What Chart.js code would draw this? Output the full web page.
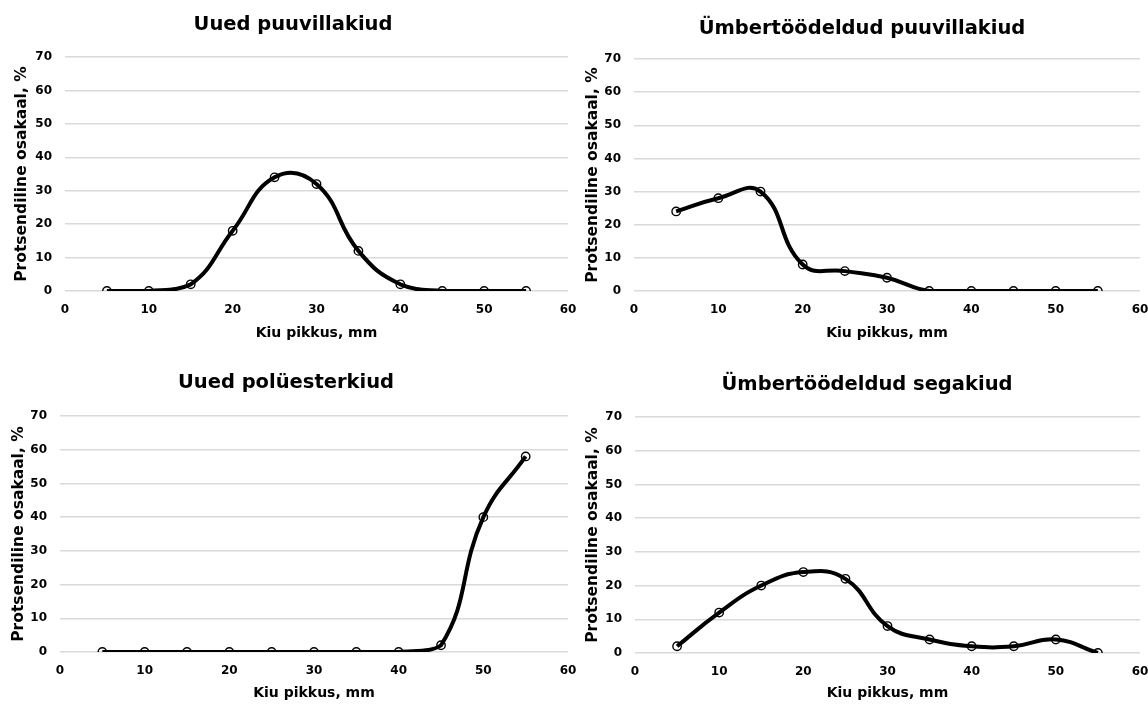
<!DOCTYPE html>
<html>
<head>
<meta charset="utf-8">
<script src="https://cdn.jsdelivr.net/npm/chart.js@4"></script>
<style>
  html, body { margin: 0; padding: 0; background: #fff; }
  #wrap { position: relative; width: 1148px; height: 704px; overflow: hidden; }
  .cell { position: absolute; height: 352px; }
</style>
</head>
<body>
<div id="wrap">
  <div class="cell" style="left:0;top:0;width:590px"><canvas id="c1"></canvas></div>
  <div class="cell" style="left:574px;top:0;width:574px"><canvas id="c2"></canvas></div>
  <div class="cell" style="left:0;top:352px;width:590px"><canvas id="c3"></canvas></div>
  <div class="cell" style="left:574px;top:352px;width:574px"><canvas id="c4"></canvas></div>
</div>
<script>
// fiber length, mm
const lengths = [5, 10, 15, 20, 25, 30, 35, 40, 45, 50, 55];

// share, %
const newCotton = [0, 0, 2, 18, 34, 32, 12, 2, 0, 0, 0];
const recycledCotton = [24, 28, 30, 8, 6, 4, 0, 0, 0, 0, 0];
const newPolyester = [0, 0, 0, 0, 0, 0, 0, 0, 2, 40, 58];
const recycledMixed = [2, 12, 20, 24, 22, 8, 4, 2, 2, 4, 0];

const titles = [
  'Uued puuvillakiud',
  'Ümbertöödeldud puuvillakiud',
  'Uued polüesterkiud',
  'Ümbertöödeldud segakiud'
];
const xTicks = [0, 10, 20, 30, 40, 50, 60];
const yTicks = [0, 10, 20, 30, 40, 50, 60, 70];

const xTitle = 'Kiu pikkus, mm';
const yTitle = 'Protsendiline osakaal, %';

Chart.defaults.font.family = '"DejaVu Sans", Verdana, sans-serif';
Chart.defaults.font.weight = 'bold';
Chart.defaults.color = '#000';

const H = 352;
const TITLE_SIZE = 19.5, XT_SIZE = 14, YT_SIZE = 15.5, TICK_SIZE = 12;

// box = where the plot area sits inside the cell, plus centres of the titles
function makeChart(id, title, values, box) {
  const canvas = document.getElementById(id);
  const W = canvas.parentNode.clientWidth;
  const points = lengths.map((x, i) => ({ x: x, y: values[i] }));
  const tLh = TITLE_SIZE * 1.2;
  const padLeft = 2 * box.titleX - box.right;
  return new Chart(canvas, {
    type: 'line',
    data: {
      datasets: [{
        data: points,
        borderColor: '#000',
        borderWidth: 4,
        tension: 0.45,
        pointRadius: 4.2,
        pointBorderWidth: 1.4,
        pointBorderColor: '#000',
        pointBackgroundColor: 'rgba(255,255,255,0)'
      }]
    },
    options: {
      responsive: true,
      maintainAspectRatio: false,
      animation: false,
      layout: { padding: { top: 0, left: padLeft, bottom: 0, right: W - box.right } },
      plugins: {
        legend: { display: false },
        tooltip: { enabled: false },
        title: {
          display: true,
          text: title,
          font: { size: TITLE_SIZE, weight: 'bold' },
          color: '#000',
          padding: { top: box.titleY - tLh / 2, bottom: box.top - box.titleY - tLh / 2 }
        }
      },
      scales: {
        x: {
          type: 'linear',
          min: 0,
          max: 60,
          afterBuildTicks: axis => { axis.ticks = xTicks.map(v => ({ value: v })); },
          afterFit: axis => {
            axis.height = H - box.bottom;
            axis.paddingLeft = 0;
            axis.paddingRight = 0;
          },
          grid: { display: false, drawTicks: false },
          border: { display: false },
          ticks: { font: { size: TICK_SIZE, weight: 'bold' }, padding: 12, maxRotation: 0 },
          title: {
            display: true, text: xTitle, font: { size: XT_SIZE, weight: 'bold' },
            padding: { top: 0, bottom: H - box.xTitleY - XT_SIZE * 0.6 }
          }
        },
        y: {
          min: 0,
          max: 70,
          afterBuildTicks: axis => { axis.ticks = yTicks.map(v => ({ value: v })); },
          afterFit: axis => { axis.width = box.left - padLeft; },
          grid: { color: '#d9d9d9', lineWidth: 1.4, drawTicks: false },
          border: { display: false },
          ticks: { font: { size: TICK_SIZE, weight: 'bold' }, padding: 13 },
          title: {
            display: true, text: yTitle, font: { size: YT_SIZE, weight: 'bold' },
            padding: { top: box.yTitleX - padLeft - YT_SIZE * 0.6, bottom: 0 }
          }
        }
      }
    }
  });
}

makeChart('c1', titles[0], newCotton,
  { left: 65, right: 568, top: 57, bottom: 291, titleX: 293, titleY: 25, xTitleY: 333, yTitleX: 22 });
makeChart('c2', titles[1], recycledCotton,
  { left: 60, right: 566, top: 59, bottom: 291, titleX: 288, titleY: 29, xTitleY: 333, yTitleX: 19 });
makeChart('c3', titles[2], newPolyester,
  { left: 60, right: 568, top: 64, bottom: 300, titleX: 286, titleY: 31, xTitleY: 341, yTitleX: 19 });
makeChart('c4', titles[3], recycledMixed,
  { left: 61, right: 566, top: 65, bottom: 301, titleX: 293, titleY: 33, xTitleY: 341, yTitleX: 19 });
</script>
</body>
</html>
